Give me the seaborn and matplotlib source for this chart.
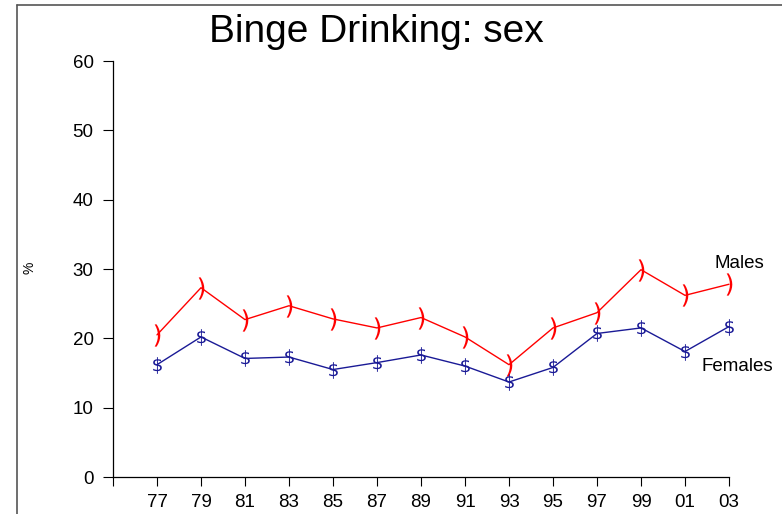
import matplotlib
matplotlib.use("Agg")
import matplotlib.pyplot as plt
from matplotlib.lines import Line2D
import numpy as np
import seaborn as sns

years = ["77", "79", "81", "83", "85", "87", "89", "91", "93", "95", "97", "99", "01", "03"]
males = [20.5, 27.3, 22.7, 24.7, 22.8, 21.5, 23.0, 20.2, 16.2, 21.5, 23.7, 29.9, 26.2, 27.8]
females = [16.2, 20.2, 17.1, 17.3, 15.5, 16.5, 17.6, 16.0, 13.7, 15.8, 20.7, 21.5, 18.1, 21.7]
y_ticks = [0, 10, 20, 30, 40, 50, 60]

RED = "#FF0000"
NAVY = "#1a1a96"

sns.set_style("ticks")
plt.rcParams["font.family"] = ["Liberation Sans", "DejaVu Sans"]
plt.rcParams["text.color"] = "black"
plt.rcParams["xtick.color"] = "black"
plt.rcParams["ytick.color"] = "black"

fig = plt.figure(figsize=(7.82, 5.14), dpi=100)
ax = fig.add_axes([113 / 782, 1 - 477 / 514, (729 - 113) / 782, (477 - 61) / 514])

pos = np.arange(1, len(years) + 1)
sns.lineplot(x=pos, y=males, ax=ax, color=RED, linewidth=1.0,
             marker=r"$)$", markersize=16, markeredgewidth=0, clip_on=False)
sns.lineplot(x=pos, y=females, ax=ax, color=NAVY, linewidth=1.0,
             marker=r"$\$$", markersize=12, markeredgewidth=0, clip_on=False)

ax.set_xlim(0, len(years))
ax.set_ylim(0, 60)
ax.set_xticks(np.arange(0, len(years) + 1))
ax.set_xticklabels([""] + years)
ax.set_yticks(y_ticks)
ax.tick_params(axis="x", length=6.5, width=0.8, pad=6, labelsize=13.5)
ax.tick_params(axis="y", length=7, width=0.8, pad=7, labelsize=13.5)
for side in ["top", "right"]:
    ax.spines[side].set_visible(False)
for side in ["left", "bottom"]:
    ax.spines[side].set_linewidth(0.9)
    ax.spines[side].set_color("black")

ax.text(14.23, 30.8, "Males", ha="center", va="center", fontsize=13.5)
ax.text(14.18, 15.9, "Females", ha="center", va="center", fontsize=13.5)

fig.text(376 / 782, 1 - 32 / 514, "Binge Drinking: sex", ha="center", va="center", fontsize=28)
fig.text(30 / 782, 1 - 268 / 514, "%", ha="center", va="center", rotation=90, fontsize=10)

# screenshot frame at top and left
fig.add_artist(Line2D([17 / 782, 17 / 782], [0, 1 - 5 / 514], transform=fig.transFigure,
                      color="#555555", linewidth=1.2))
fig.add_artist(Line2D([17 / 782, 1], [1 - 5 / 514, 1 - 5 / 514], transform=fig.transFigure,
                      color="#555555", linewidth=1.2))

fig.savefig("out.png", dpi=100, facecolor="white")
